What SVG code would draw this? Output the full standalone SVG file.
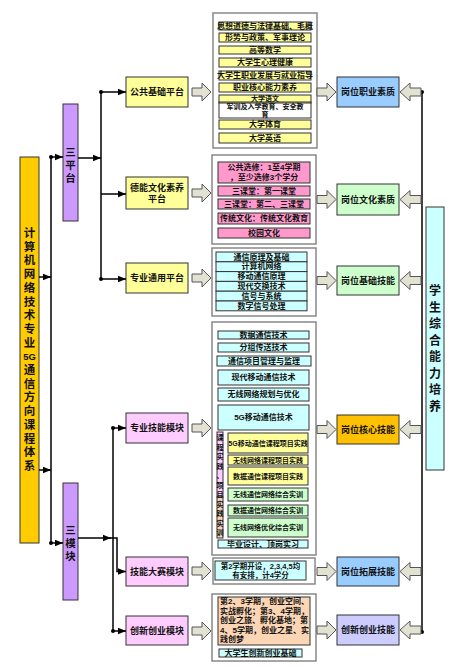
<svg xmlns="http://www.w3.org/2000/svg" width="456" height="670" viewBox="0 0 456 670">
<defs>
<marker id="ah" viewBox="0 0 10 10" refX="10" refY="5" markerWidth="8" markerHeight="8" markerUnits="userSpaceOnUse" orient="auto"><path d="M0,1L10,5L0,9Z" fill="#000"/></marker>
<path id="br" d="M0,-4H10V-9L19,0L10,9V4H0Z"/>
<path id="bl" d="M0,-4H-11V-9L-21,0L-11,9V4H0Z"/>
</defs>
<style>
.f{font-family:"Liberation Sans","Noto Sans CJK SC",sans-serif;font-weight:bold;fill:#111;text-anchor:middle;dominant-baseline:central}
.s7{font-size:7px}.s8{font-size:8px}.s9{font-size:9px}.s10{font-size:10.5px}.s12{font-size:12px}
.bx{stroke:#333;stroke-width:1}
.pn{fill:#fff;stroke:#888;stroke-width:1.5}
.ba{fill:#e2e2d2;stroke:#555;stroke-width:1}
.ln{stroke:#000;stroke-width:1.5;fill:none}
.y{fill:#ffff99}.p{fill:#ff99cc}.c{fill:#ccffff}.g{fill:#ccffcc}.pk{fill:#ffccff}.o{fill:#fcd5b4}
</style>
<rect width="456" height="670" fill="#fff"/>

<g id="root"><rect class="bx" x="20" y="157" width="19" height="386" fill="#ffcc00" stroke="#7f6000"/>
<text class="f" font-size="11.5"><tspan x="29.5" y="233">计</tspan><tspan x="29.5" y="246.7">算</tspan><tspan x="29.5" y="260.4">机</tspan><tspan x="29.5" y="274.1">网</tspan><tspan x="29.5" y="287.8">络</tspan><tspan x="29.5" y="301.5">技</tspan><tspan x="29.5" y="315.2">术</tspan><tspan x="29.5" y="328.9">专</tspan><tspan x="29.5" y="342.6">业</tspan><tspan x="29.5" y="356.3" font-size="9.5">5G</tspan><tspan x="29.5" y="370">通</tspan><tspan x="29.5" y="383.7">信</tspan><tspan x="29.5" y="397.4">方</tspan><tspan x="29.5" y="411.1">向</tspan><tspan x="29.5" y="424.8">课</tspan><tspan x="29.5" y="438.5">程</tspan><tspan x="29.5" y="452.2">体</tspan><tspan x="29.5" y="465.9">系</tspan></text></g>

<g id="sanpingtai"><rect class="bx" x="63" y="104" width="15" height="117" fill="#cc99ff"/>
<text class="f s10"><tspan x="70.5" y="152">三</tspan><tspan x="70.5" y="165">平</tspan><tspan x="70.5" y="178">台</tspan></text></g>
<g id="sanmokuai"><rect class="bx" x="63" y="483" width="15" height="117" fill="#cc99ff"/>
<text class="f s10"><tspan x="70.5" y="530">三</tspan><tspan x="70.5" y="543">模</tspan><tspan x="70.5" y="556">块</tspan></text></g>

<g id="gonggong"><rect class="bx y" x="126" y="77" width="62" height="30"/><text class="f s9" x="157" y="92">公共基础平台</text></g>
<g id="deneng"><rect class="bx y" x="126" y="177" width="62" height="32"/><text class="f s9" x="157" y="187.5">德能文化素养</text><text class="f s9" x="157" y="199">平台</text></g>
<g id="zhuanyetongyong"><rect class="bx y" x="126" y="263" width="62" height="30"/><text class="f s9" x="157" y="278">专业通用平台</text></g>
<g id="zhuanyejineng"><rect class="bx pk" x="126" y="413" width="62" height="30"/><text class="f s9" x="157" y="428">专业技能模块</text></g>
<g id="jinengdasai"><rect class="bx pk" x="126" y="557" width="62" height="29"/><text class="f s9" x="157" y="571.5">技能大赛模块</text></g>
<g id="chuangxin"><rect class="bx pk" x="126" y="616" width="62" height="29"/><text class="f s9" x="157" y="630.5">创新创业模块</text></g>

<g id="panel1"><rect class="pn" x="213" y="13" width="104" height="135"/>
<g class="bx y"><rect x="219" y="22" width="92" height="8"/><rect x="219" y="33" width="92" height="9"/><rect x="219" y="46" width="92" height="8"/><rect x="219" y="58" width="92" height="9"/><rect x="219" y="71" width="92" height="9"/><rect x="219" y="83" width="92" height="9"/><rect x="219" y="95" width="92" height="8"/><rect x="219" y="102" width="92" height="16" fill="none"/><rect x="219" y="120" width="92" height="9"/><rect x="219" y="133" width="92" height="10"/></g>
<g class="f s8"><text x="265" y="26">思想道德与法律基础、毛概</text><text x="265" y="37.5">形势与政策、军事理论</text><text x="265" y="50">高等数学</text><text x="265" y="62.5">大学生心理健康</text><text x="265" y="75.5">大学生职业发展与就业指导</text><text x="265" y="87.5">职业核心能力素养</text><text x="265" y="98.5" font-size="7">大学语文</text><text x="265" y="106.7" font-size="7">军训及入学教育、安全教</text><text x="265" y="114.8" font-size="7">育</text><text x="265" y="124.5">大学体育</text><text x="265" y="138">大学英语</text></g></g>

<g id="panel2"><rect class="pn" x="212" y="155" width="104" height="89"/>
<g class="bx p"><rect x="218" y="162" width="92" height="21"/><rect x="218" y="186" width="92" height="10"/><rect x="218" y="199" width="92" height="10"/><rect x="218" y="213" width="92" height="11"/><rect x="218" y="228" width="92" height="10"/></g>
<g class="f s8"><text x="264" y="167.5">公共选修：1至4学期</text><text x="264" y="177.5">，至少选修3个学分</text><text x="264" y="191">三课堂：第一课堂</text><text x="264" y="204">三课堂：第二、三课堂</text><text x="264" y="218.5">传统文化：传统文化教育</text><text x="264" y="233">校园文化</text></g></g>

<g id="panel3"><rect class="pn" x="212" y="248" width="104" height="68"/>
<g class="bx c"><rect x="216" y="252" width="91" height="9.8"/><rect x="216" y="261.8" width="91" height="9.8"/><rect x="216" y="271.6" width="91" height="9.8"/><rect x="216" y="281.4" width="91" height="9.8"/><rect x="216" y="291.2" width="91" height="9.8"/><rect x="216" y="301" width="91" height="9.8"/></g>
<g class="f s8"><text x="261.5" y="257">通信原理及基础</text><text x="261.5" y="266.8">计算机网络</text><text x="261.5" y="276.6">移动通信原理</text><text x="261.5" y="286.4">现代交换技术</text><text x="261.5" y="296.2">信号与系统</text><text x="261.5" y="306">数字信号处理</text></g></g>

<g id="panel4"><rect class="pn" x="212" y="322" width="104" height="233"/>
<g class="bx c"><rect x="218" y="331" width="91" height="8"/><rect x="218" y="343" width="91" height="9"/><rect x="217" y="356" width="94" height="10"/><rect x="218" y="370" width="91" height="15"/><rect x="218" y="388" width="91" height="13"/><rect x="218" y="405" width="91" height="25"/><rect x="218" y="540" width="90" height="8"/></g>
<g class="f s8"><text x="263.5" y="335">数据通信技术</text><text x="263.5" y="347.5">分组传送技术</text><text x="264" y="361">通信项目管理与监理</text><text x="263.5" y="377.5">现代移动通信技术</text><text x="263.5" y="394.5">无线网络规划与优化</text><text x="263.5" y="417.5">5G移动通信技术</text><text x="263" y="544">毕业设计、顶岗实习</text></g>
<rect class="bx" x="217" y="432" width="6" height="65" fill="#ffccff"/><rect class="bx" x="217" y="497" width="6" height="41" fill="#fcd5b4"/>
<text class="f s7"><tspan x="220" y="437">课</tspan><tspan x="220" y="446.5">程</tspan><tspan x="220" y="456">实</tspan><tspan x="220" y="465.5">践</tspan><tspan x="220" y="475">、</tspan><tspan x="220" y="484.5">项</tspan><tspan x="220" y="494">目</tspan><tspan x="220" y="503.5">实</tspan><tspan x="220" y="513">践</tspan><tspan x="220" y="522.5">实</tspan><tspan x="220" y="532">训</tspan></text>
<g class="bx y"><rect x="228" y="433" width="80" height="20"/><rect x="228" y="455" width="80" height="10"/><rect x="228" y="467" width="80" height="18"/></g>
<g class="bx g"><rect x="228" y="488" width="80" height="13"/><rect x="228" y="505" width="80" height="11"/><rect x="228" y="518" width="80" height="19"/></g>
<g class="f s7"><text x="268" y="443">5G移动通信课程项目实践</text><text x="268" y="460">无线网络课程项目实践</text><text x="268" y="476">数据通信课程项目实践</text><text x="268" y="494.5">无线通信网络综合实训</text><text x="268" y="510.5">数据通信网络综合实训</text><text x="268" y="527.5">无线网络优化综合实训</text></g></g>

<g id="panel5"><rect class="pn" x="213" y="558" width="102" height="26"/><rect class="bx c" x="215" y="561" width="91" height="19"/>
<text class="f" font-size="7.5" x="260.5" y="566">第2学期开设，2,3,4,5均</text><text class="f" font-size="7.5" x="260.5" y="575">有安排，计4学分</text></g>

<g id="panel6"><rect class="pn" x="212" y="594" width="104" height="67"/><rect class="bx o" x="218" y="597" width="92" height="48"/><rect class="bx c" x="219" y="649" width="83" height="8"/>
<g class="f" font-size="8" style="text-anchor:start"><text x="220" y="601.5">第2、3学期，创业空间、</text><text x="220" y="611">实战孵化；第3、4学期，</text><text x="220" y="620.5">创业之旅、孵化基地；第</text><text x="220" y="630">4、5学期，创业之星、实</text><text x="220" y="639.5">践创梦</text></g>
<text class="f s8" x="260.5" y="653">大学生创新创业基础</text></g>

<g id="r1"><rect class="bx" x="337" y="77" width="62" height="30" fill="#99ccff"/><text class="f s9" x="368" y="92">岗位职业素质</text></g>
<g id="r2"><rect class="bx g" x="337" y="184" width="62" height="31"/><text class="f s9" x="368" y="199.5">岗位文化素质</text></g>
<g id="r3"><rect class="bx g" x="337" y="266" width="62" height="29"/><text class="f s9" x="368" y="280.5">岗位基础技能</text></g>
<g id="r4"><rect class="bx" x="337" y="415" width="62" height="29" fill="#ffc000"/><text class="f s9" x="368" y="429.5">岗位核心技能</text></g>
<g id="r5"><rect class="bx" x="337" y="557" width="62" height="29" fill="#99ccff"/><text class="f s9" x="368" y="571.5">岗位拓展技能</text></g>
<g id="r6"><rect class="bx" x="337" y="615" width="62" height="30" fill="#ccccff"/><text class="f s9" x="368" y="630">创新创业技能</text></g>

<g id="zonghe"><rect class="bx c" x="426" y="207" width="18" height="263"/>
<text class="f s12"><tspan x="435" y="291">学</tspan><tspan x="435" y="307.5">生</tspan><tspan x="435" y="324">综</tspan><tspan x="435" y="340.5">合</tspan><tspan x="435" y="357">能</tspan><tspan x="435" y="373.5">力</tspan><tspan x="435" y="390">培</tspan><tspan x="435" y="406.5">养</tspan></text></g>

<g id="connectors">
<path class="ln" d="M51,157V543"/>
<circle cx="51" cy="157" r="2"/><circle cx="51" cy="543" r="2"/>
<path class="ln" d="M51,157H63" marker-end="url(#ah)"/>
<path class="ln" d="M51,543H63" marker-end="url(#ah)"/>
<path class="ln" d="M39,277H51" marker-end="url(#ah)"/>
<path class="ln" d="M39,470H51" marker-end="url(#ah)"/>
<path class="ln" d="M78,158H101" marker-end="url(#ah)"/>
<path class="ln" d="M101,92V279"/>
<circle cx="101" cy="92" r="2"/><circle cx="101" cy="279" r="2"/>
<path class="ln" d="M101,92H126" marker-end="url(#ah)"/>
<path class="ln" d="M101,194H126" marker-end="url(#ah)"/>
<path class="ln" d="M101,279H126" marker-end="url(#ah)"/>
<path class="ln" d="M78,538H111" marker-end="url(#ah)"/>
<path class="ln" d="M110,538H117V571.5H126" marker-end="url(#ah)"/>
<path class="ln" d="M113,428V631"/>
<circle cx="113" cy="428" r="2"/><circle cx="113" cy="631" r="2"/>
<path class="ln" d="M113,428H126" marker-end="url(#ah)"/>
<path class="ln" d="M113,631H126" marker-end="url(#ah)"/>
<path class="ln" d="M422,92V632"/>
<circle cx="422" cy="92" r="2"/><circle cx="422" cy="632" r="2"/>
<g class="ba">
<use href="#br" transform="translate(192,92)"/><use href="#br" transform="translate(192,193)"/><use href="#br" transform="translate(192,278)"/><use href="#br" transform="translate(192,428)"/><use href="#br" transform="translate(192,571)"/><use href="#br" transform="translate(192,631)"/>
<use href="#br" transform="translate(317,92)"/><use href="#br" transform="translate(317,199.5)"/><use href="#br" transform="translate(317,280.5)"/><use href="#br" transform="translate(317,429.5)"/><use href="#br" transform="translate(317,571.5)"/><use href="#br" transform="translate(317,630)"/>
<use href="#bl" transform="translate(421,92)"/><use href="#bl" transform="translate(421,199.5)"/><use href="#bl" transform="translate(421,280.5)"/><use href="#bl" transform="translate(421,429.5)"/><use href="#bl" transform="translate(421,571.5)"/><use href="#bl" transform="translate(421,630)"/>
</g>
</g>
</svg>
